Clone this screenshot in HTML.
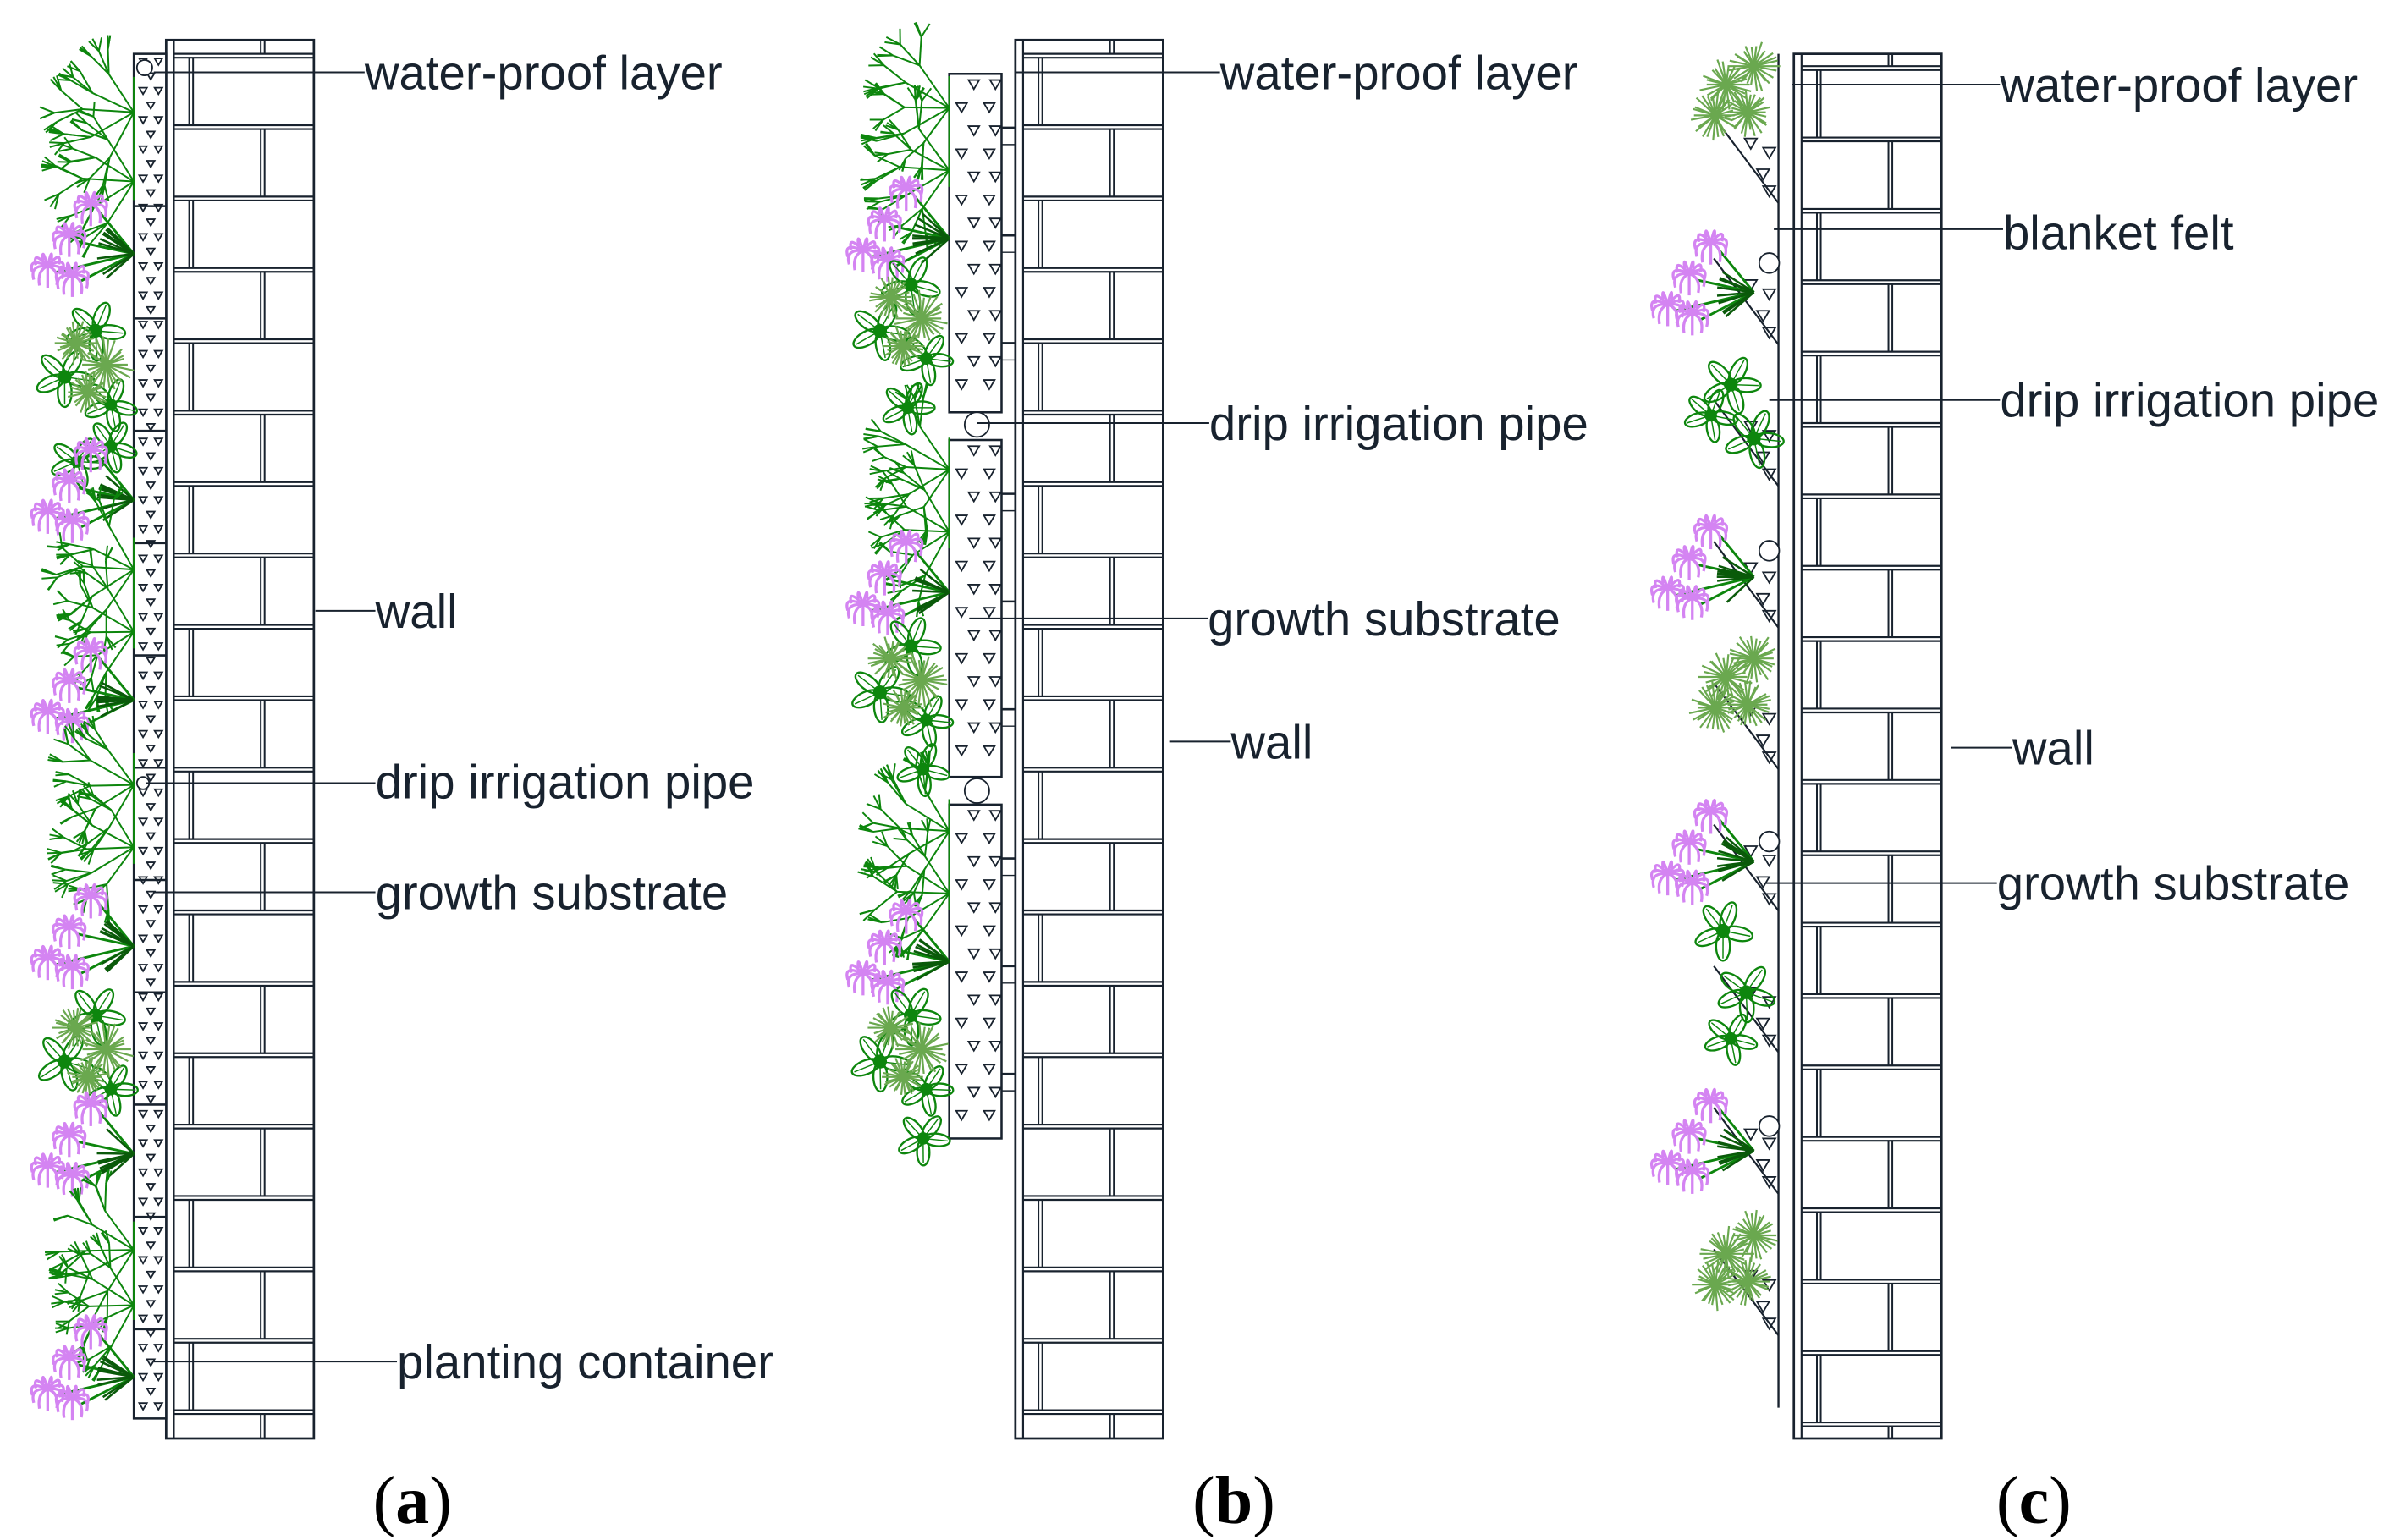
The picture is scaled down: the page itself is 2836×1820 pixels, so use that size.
<!DOCTYPE html>
<html><head><meta charset="utf-8">
<style>
html,body{margin:0;padding:0;background:#fff;}
svg{display:block;}
text{font-family:"Liberation Sans",Arial,sans-serif;fill:#18222e;}
.cap{font-family:"Liberation Serif",serif;fill:#000;}
</style></head>
<body>
<svg id="s" xmlns="http://www.w3.org/2000/svg" width="2836" height="1820" viewBox="0 0 1560 1001" preserveAspectRatio="none">
<g id="g"></g>
<g font-size="31">
<text x="237" y="58">water-proof layer</text>
<text x="244" y="408">wall</text>
<text x="244" y="519">drip irrigation pipe</text>
<text x="244" y="591">growth substrate</text>
<text x="258" y="896">planting container</text>
<text x="793" y="58">water-proof layer</text>
<text x="786" y="286">drip irrigation pipe</text>
<text x="785" y="413">growth substrate</text>
<text x="800" y="493">wall</text>
<text x="1300" y="66">water-proof layer</text>
<text x="1302" y="162">blanket felt</text>
<text x="1300" y="271">drip irrigation pipe</text>
<text x="1308" y="497">wall</text>
<text x="1298" y="585">growth substrate</text>
</g>
<text class="cap" x="268" y="990" font-size="44" text-anchor="middle">(<tspan font-weight="bold">a</tspan>)</text>
<text class="cap" x="802" y="990" font-size="44" text-anchor="middle">(<tspan font-weight="bold">b</tspan>)</text>
<text class="cap" x="1322" y="990" font-size="44" text-anchor="middle">(<tspan font-weight="bold">c</tspan>)</text>
</svg>
<script>
var NS="http://www.w3.org/2000/svg",G=document.getElementById('g');
var INK="#18222e";
function el(t,a){var e=document.createElementNS(NS,t);for(var k in a)e.setAttribute(k,a[k]);G.appendChild(e);return e;}
function ln(x1,y1,x2,y2,c,w){el('line',{x1:x1,y1:y1,x2:x2,y2:y2,stroke:c||INK,'stroke-width':w||1});}
var seed=7;function r(){seed=(seed*16807)%2147483647;return seed/2147483647;}
function wall(x0,top,first,bot){
  var w=96;
  el('rect',{x:x0,y:top,width:w,height:bot-top,fill:'#fff',stroke:INK,'stroke-width':1.5});
  ln(x0+5,top,x0+5,bot,INK,1.2);
  var ys=[top];for(var y=first;y<bot-8;y+=46.4)ys.push(y);
  ys.push(bot);
  for(var i=1;i<ys.length-1;i++){ln(x0+5,ys[i],x0+w,ys[i],INK,1.2);ln(x0+5,ys[i]+2.5,x0+w,ys[i]+2.5,INK,1.2);}
  for(var i=0;i<ys.length-1;i++){
    var a=ys[i]+(i?2.5:0),b=ys[i+1];var jx=(i%2==0)?x0+61.5:x0+15;
    ln(jx,a,jx,b,INK,1.1);ln(jx+2.5,a,jx+2.5,b,INK,1.1);
  }
}
function tri(x,y,s){el('path',{d:'M'+(x-s/2)+','+y+'L'+(x+s/2)+','+y+'L'+x+','+(y+s*0.85)+'Z',fill:'none',stroke:INK,'stroke-width':1});}
// (a)
wall(108,26,35,935);
el('rect',{x:87,y:35,width:21,height:887,fill:'#fff',stroke:INK,'stroke-width':1.4});
for(var y=38,k=0;y<918;y+=9.5,k++){var xs=k%2?[98]:[93,103];xs.forEach(function(x){tri(x,y,5);});}
[134,207,280,353,426,499,572,645,718,791,864].forEach(function(y){ln(87,y,108,y,INK,1.4);});
el('circle',{cx:94,cy:44,r:5,fill:'#fff',stroke:INK,'stroke-width':1});
el('circle',{cx:93,cy:509,r:4,fill:'#fff',stroke:INK,'stroke-width':1});
// (b)
wall(660,26,35,935);
[[48,268],[286,505],[523,740]].forEach(function(p){
  el('rect',{x:617,y:p[0],width:34,height:p[1]-p[0],fill:'#fff',stroke:INK,'stroke-width':1.4});
  for(var y=p[0]+4,k=0;y<p[1]-8;y+=15,k++){var xs=k%2?[625,643]:[633,647];xs.forEach(function(x){tri(x,y,7);});}
  for(var y=p[0]+35;y<p[1];y+=70){ln(651,y,660,y,INK,1.4);ln(651,y+11,660,y+11,INK,0.8);}
});
el('circle',{cx:635,cy:276,r:8,fill:'#fff',stroke:INK,'stroke-width':1});
el('circle',{cx:635,cy:514,r:8,fill:'#fff',stroke:INK,'stroke-width':1});
// (c)
wall(1166,35,43,935);
ln(1156,35,1156,915,INK,1.3);
[132,224,316,408,500,592,684,776,868].forEach(function(yb){
  el('path',{d:'M1114,'+(yb-56)+'L1156,'+yb,fill:'none',stroke:INK,'stroke-width':1.2});
  tri(1138,yb-42,8);tri(1150,yb-36,8);tri(1146,yb-22,8);tri(1150,yb-11,8);
});
[171,358,547,732].forEach(function(y){el('circle',{cx:1150,cy:y,r:6.5,fill:'#fff',stroke:INK,'stroke-width':1});});
// leaders
[[100,47,237],[205,397,244],[95,509,244],[100,580,244],[100,885,258],
 [660,47,793],[635,275,786],[630,402,785],[760,482,800],
 [1165,55,1300],[1153,149,1302],[1150,260,1300],[1268,486,1308],[1148,574,1298]].forEach(function(l){ln(l[0],l[1],l[2],l[1],INK,1.1);});
// plants
var GR="#0d860d",DG="#0a5a0a",PK="#d484f2",LG="#6aa84f";
function branch(x,y,ang,L,d){
  var ex=x+Math.cos(ang)*L,ey=y+Math.sin(ang)*L;
  ln(x,y,ex,ey,GR,1.1);
  if(d>0){for(var q=0;q<3;q++)branch(ex,ey,ang+(r()-0.5)*1.5,L*0.55,d-1);}
}
function fern(ax,ay,h){
  for(var j=0;j<2;j++){var by=ay-h*0.22+j*h*0.45;
    for(var i=0;i<5;i++){var ang=Math.PI*(1.0+(i-2)*0.16)+(r()-0.5)*0.15;branch(ax,by,ang,28+r()*6,2);}
  }
  ln(ax,ay-h*0.45,ax,ay+h*0.35,GR,1.2);
}
function flower(ax,ay){
  var heads=[[ax-28,ay-32],[ax-42,ay-12],[ax-56,ay+8],[ax-40,ay+14]];
  heads.forEach(function(hd){ln(ax,ay,hd[0]+5,hd[1]+4,GR,1.6);
    for(var i=0;i<11;i++){var a=Math.PI*(0.5+i*0.18);var x=hd[0]+Math.cos(a)*10,y=hd[1]+Math.sin(a)*9;
      el('path',{d:'M'+hd[0]+','+hd[1]+'Q'+(x+Math.cos(a)*3)+','+(y-5)+' '+x+','+(y+5),fill:'none',stroke:PK,'stroke-width':1.8});}});
  for(var i=0;i<10;i++){var a=Math.PI*(0.75+r()*0.5);ln(ax,ay,ax+Math.cos(a)*24,ay+Math.sin(a)*24,DG,1.4);}
}
function leafy(cx,cy,s){
  for(var i=0;i<5;i++){var a=i*72+r()*20;var px=cx+Math.cos(a*Math.PI/180)*s,py=cy+Math.sin(a*Math.PI/180)*s;
    el('ellipse',{cx:px,cy:py,rx:s*0.95,ry:s*0.45,transform:'rotate('+a+' '+px+' '+py+')',fill:'none',stroke:GR,'stroke-width':1.3});
    ln(cx,cy,px+Math.cos(a*Math.PI/180)*s*0.8,py+Math.sin(a*Math.PI/180)*s*0.8,GR,0.8);}
  el('circle',{cx:cx,cy:cy,r:s*0.45,fill:GR});
}
function spiky(cx,cy,s){for(var i=0;i<26;i++){var a=i/26*Math.PI*2;ln(cx,cy,cx+Math.cos(a)*s*(0.7+r()*0.4),cy+Math.sin(a)*s*(0.7+r()*0.4),LG,1.2);}el('circle',{cx:cx,cy:cy,r:3.5,fill:LG});}
function leafGroup(ax,y){leafy(ax-25,y,10);leafy(ax-45,y+30,10);leafy(ax-15,y+48,9);spiky(ax-18,y+22,17);spiky(ax-38,y+8,14);spiky(ax-30,y+40,13);}
// (a)
fern(87,95,100);flower(87,165);leafGroup(87,215);leafy(72,290,9);leafy(50,300,9);flower(87,325);
fern(87,390,90);flower(87,455);fern(87,530,90);flower(87,615);leafGroup(87,660);flower(87,750);fern(87,830,80);flower(87,895);
// (b)
fern(617,90,90);flower(617,155);leafGroup(617,185);leafy(590,265,9);fern(617,325,90);flower(617,385);leafGroup(617,420);leafy(600,500,9);
fern(617,560,90);flower(617,625);leafGroup(617,660);leafy(600,740,9);
// (c)
function cs(y){spiky(1122,y,17);spiky(1140,y-12,16);spiky(1115,y+20,16);spiky(1136,y+18,15);}
cs(55);flower(1140,190);leafy(1125,250,10);leafy(1140,285,10);leafy(1112,270,9);flower(1140,375);cs(440);flower(1140,560);
leafy(1120,605,10);leafy(1135,645,10);leafy(1125,675,9);flower(1140,748);cs(815);
</script>
</body></html>
